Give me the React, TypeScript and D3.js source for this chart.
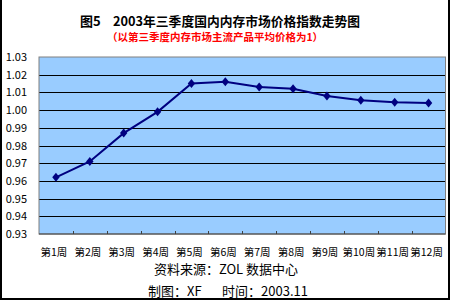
import React from "react";
import * as d3 from "d3";

const weeks = ["第1周", "第2周", "第3周", "第4周", "第5周", "第6周", "第7周", "第8周", "第9周", "第10周", "第11周", "第12周"];
const indexValues = [0.962, 0.971, 0.987, 0.999, 1.015, 1.016, 1.013, 1.012, 1.008, 1.0055, 1.0045, 1.004];
const yTicks = [0.93, 0.94, 0.95, 0.96, 0.97, 0.98, 0.99, 1.0, 1.01, 1.02, 1.03];
const titleLead = "图5";
const titleMain = "2003年三季度国内内存市场价格指数走势图";
const subtitle = "（以第三季度内存市场主流产品平均价格为1）";
const sourceText = "资料来源：ZOL 数据中心";
const creditLead = "制图：XF";
const creditTail = "时间：2003.11";

const W = 450;
const H = 300;
const plot = { left: 39, right: 445.5, top: 57, bottom: 234 };
const FONT = "'Noto Sans CJK SC', sans-serif";

export default function App() {
  const x = d3.scaleBand<string>().domain(weeks).range([plot.left, plot.right]);
  const y = d3.scaleLinear().domain([0.93, 1.03]).range([plot.bottom, plot.top]);
  const line = d3
    .line<number>()
    .x((_, i) => (x(weeks[i]) as number) + x.bandwidth() / 2)
    .y((d) => y(d));
  const diamond = "M0,-4.5L3.7,0L0,4.5L-3.7,0Z";
  const boundaries = weeks.map((w) => x(w) as number).slice(1);

  return (
    <div style={{ position: "fixed", left: 0, top: 0 }}>
      <svg width={W} height={H} style={{ display: "block", background: "#fff" }}>
        <text x={80} y={26} fontFamily={FONT} fontSize={13} fontWeight="bold" fill="#000">
          {titleLead}
        </text>
        <text x={113} y={26} fontFamily={FONT} fontSize={13} fontWeight="bold" fill="#000" textLength={247} lengthAdjust="spacingAndGlyphs">
          {titleMain}
        </text>
        <text x={215} y={41} textAnchor="middle" fontFamily={FONT} fontSize={10.5} fontWeight="bold" fill="#ff0000">
          {subtitle}
        </text>

        <rect x={plot.left} y={plot.top} width={plot.right - plot.left} height={plot.bottom - plot.top} fill="#99CCFF" />
        {yTicks.slice(1, -1).map((t) => (
          <line key={t} x1={plot.left} x2={plot.right} y1={Math.round(y(t)) + 0.5} y2={Math.round(y(t)) + 0.5} stroke="#000" strokeWidth={1} />
        ))}
        <rect x={plot.left} y={plot.top} width={plot.right - plot.left} height={plot.bottom - plot.top} fill="none" stroke="#808080" strokeWidth={1} />
        <line x1={plot.left} x2={plot.right} y1={plot.bottom} y2={plot.bottom} stroke="#404040" strokeWidth={1.2} />
        {boundaries.map((b, i) => (
          <line key={i} x1={Math.round(b) + 0.5} x2={Math.round(b) + 0.5} y1={plot.bottom} y2={plot.bottom - 3} stroke="#404040" strokeWidth={1} />
        ))}

        {yTicks.map((t) => (
          <text key={t} x={27} y={y(t) + 4} textAnchor="end" fontFamily={FONT} fontSize={11} fill="#000">
            {t.toFixed(2)}
          </text>
        ))}
        {weeks.map((w) => (
          <text key={w} x={(x(w) as number) + x.bandwidth() / 2 - 2} y={256} textAnchor="middle" fontFamily={FONT} fontSize={10.5} fill="#000">
            {w}
          </text>
        ))}

        <path d={line(indexValues) || ""} fill="none" stroke="#000080" strokeWidth={2} />
        {indexValues.map((v, i) => (
          <path key={i} d={diamond} transform={`translate(${(x(weeks[i]) as number) + x.bandwidth() / 2},${y(v)})`} fill="#000080" />
        ))}

        <text x={226} y={274} textAnchor="middle" fontFamily={FONT} fontSize={13} fill="#000">
          {sourceText}
        </text>
        <text x={148} y={296} fontFamily={FONT} fontSize={13} fill="#000">
          {creditLead}
        </text>
        <text x={308} y={296} textAnchor="end" fontFamily={FONT} fontSize={13} fill="#000">
          {creditTail}
        </text>

        <rect x={0} y={0} width={2} height={H} fill="#000" />
        <rect x={448} y={0} width={2} height={H} fill="#000" />
        <rect x={0} y={298} width={W} height={2} fill="#000" />
      </svg>
    </div>
  );
}
